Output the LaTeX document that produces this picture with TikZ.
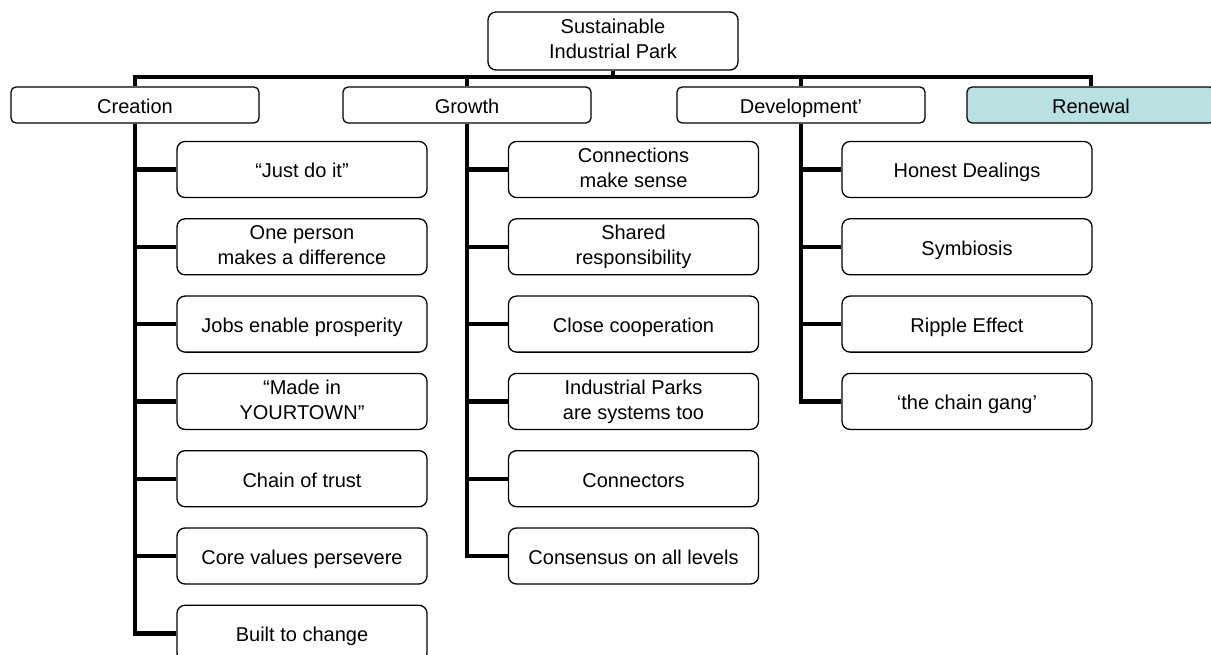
\documentclass[tikz,border=0pt]{standalone}
\usepackage{fontspec}
\setmainfont{Liberation Sans}
\definecolor{renewalfill}{RGB}{185,224,227}
% invisible rules that fix the first-line height and last-line depth of a label
\newcommand{\topstrut}{\rule{0pt}{21pt}}
\newcommand{\botstrut}{\rule[-4pt]{0pt}{4pt}}
\begin{document}
\begin{tikzpicture}[x=1pt,y=-1pt,
  every node/.style={font=\fontsize{20}{25}\selectfont, align=center, inner sep=0pt},
  labelled/.style={execute at begin node=\topstrut, execute at end node=\botstrut},
  rootbox/.style={labelled, draw, line width=1.3pt, rounded corners=8pt, minimum width=250pt, minimum height=58pt},
  phasebox/.style={labelled, draw, line width=1.3pt, rounded corners=5pt, minimum width=248pt, minimum height=36pt, fill=white},
  itembox/.style={labelled, draw, line width=1.3pt, rounded corners=8pt, minimum width=250pt, minimum height=56pt, fill=white},
  bar/.style={line width=4.8pt, line join=miter},
  stub/.style={line width=4.2pt}]
\useasboundingbox (0,0) rectangle (1211,655);
\clip (0,0) rectangle (1211,655);

% root and the four phases
\node[rootbox] (root) at (613,41) {Sustainable\\Industrial Park};
\node[phasebox] (creation) at (135,105) {Creation};
\node[phasebox] (growth) at (467,105) {Growth};
\node[phasebox] (development) at (801,105) {Development’};
\node[phasebox, fill=renewalfill] (renewal) at (1091,105) {Renewal};

% items under each phase
\foreach \name/\txt [count=\i from 0] in {
  c1/“Just do it”,
  c2/{One person\\makes a difference},
  c3/Jobs enable prosperity,
  c4/{“Made in\\YOURTOWN”},
  c5/Chain of trust,
  c6/Core values persevere,
  c7/Built to change}
  \node[itembox] (\name) at (302,{169.5+77.3*\i}) {\txt};

\foreach \name/\txt [count=\i from 0] in {
  g1/{Connections\\make sense},
  g2/{Shared\\responsibility},
  g3/Close cooperation,
  g4/{Industrial Parks\\are systems too},
  g5/Connectors,
  g6/Consensus on all levels}
  \node[itembox] (\name) at (633.5,{169.5+77.3*\i}) {\txt};

\foreach \name/\txt [count=\i from 0] in {
  d1/Honest Dealings,
  d2/Symbiosis,
  d3/Ripple Effect,
  d4/‘the chain gang’}
  \node[itembox] (\name) at (967,{169.5+77.3*\i}) {\txt};

% bus from the root to the phases
\coordinate (busL) at (creation.north |- 0,77);
\coordinate (busR) at (renewal.north |- 0,77);
\draw[bar] (creation.north) -- (busL) -- (busR) -- (renewal.north);
\draw[bar] (root.south) -- (root.south |- busL);
\draw[bar] (growth.north) -- (growth.north |- busL);
\draw[bar] (development.north) -- (development.north |- busL);

% spines and stubs
\draw[bar] (creation.south) |- (c7.west);
\foreach \n in {c1,c2,c3,c4,c5,c6}
  \draw[stub] (creation.south |- \n.west) -- (\n.west);
\draw[bar] (growth.south) |- (g6.west);
\foreach \n in {g1,g2,g3,g4,g5}
  \draw[stub] (growth.south |- \n.west) -- (\n.west);
\draw[bar] (development.south) |- (d4.west);
\foreach \n in {d1,d2,d3}
  \draw[stub] (development.south |- \n.west) -- (\n.west);
\end{tikzpicture}
\end{document}
